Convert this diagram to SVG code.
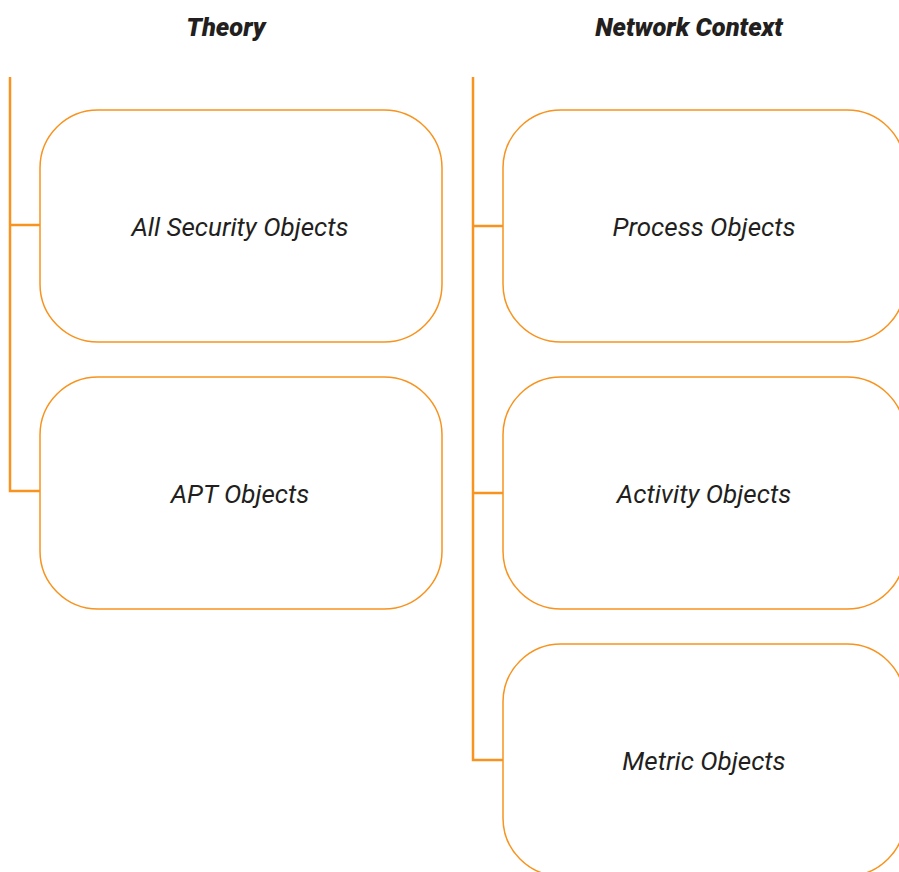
<svg xmlns="http://www.w3.org/2000/svg" width="899" height="872" viewBox="0 0 899 872">
<style>
.box{fill:#fff;stroke:#F7931E;stroke-width:1.5}
.conn{fill:none;stroke:#F7931E;stroke-width:2.5}
.head{font-family:Roboto,"Liberation Sans",sans-serif;font-weight:900;font-style:italic;font-size:25.5px;fill:#231F20;text-anchor:middle}
.lbl{font-family:Roboto,"Liberation Sans",sans-serif;font-style:italic;font-size:26px;fill:#231F20;text-anchor:middle;dominant-baseline:central}
</style>
<rect width="899" height="872" fill="#fff"/>
<text class="head" x="226" y="36">Theory</text>
<text class="head" x="689" y="36">Network Context</text>
<g id="connectors">
<path class="conn" d="M10,77 V491 H40 M10,225 H40"/>
<path class="conn" d="M473,77 V760 H503 M473,226 H503 M473,493 H503"/>
</g>
<g id="all-security"><rect class="box" x="40" y="110" width="402" height="232" rx="58"/><text class="lbl" x="240" y="227">All Security Objects</text></g>
<g id="apt"><rect class="box" x="40" y="377" width="402" height="232" rx="58"/><text class="lbl" x="240" y="494">APT Objects</text></g>
<g id="process"><rect class="box" x="503" y="110" width="402" height="232" rx="58"/><text class="lbl" x="704" y="227">Process Objects</text></g>
<g id="activity"><rect class="box" x="503" y="377" width="402" height="232" rx="58"/><text class="lbl" x="704" y="494">Activity Objects</text></g>
<g id="metric"><rect class="box" x="503" y="644" width="402" height="232" rx="58"/><text class="lbl" x="704" y="761">Metric Objects</text></g>
</svg>
